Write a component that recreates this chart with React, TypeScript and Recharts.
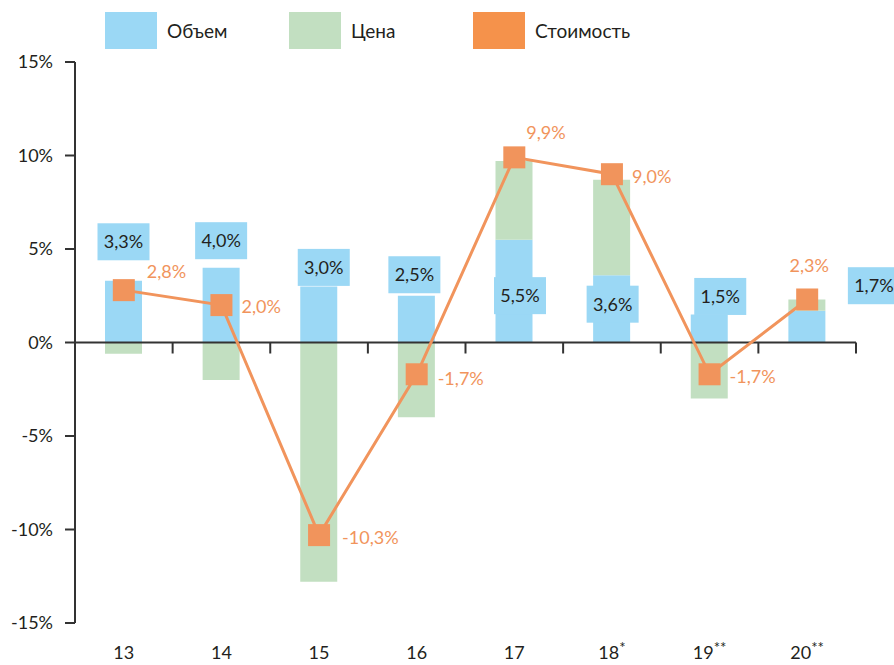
import {
  ComposedChart,
  Bar,
  Line,
  XAxis,
  YAxis,
  Legend,
  ReferenceLine,
  LabelList,
} from "recharts"

const years = ["13", "14", "15", "16", "17", "18", "19", "20"]
const yearMarks = ["", "", "", "", "", "*", "**", "**"]
const volume = [3.3, 4.0, 3.0, 2.5, 5.5, 3.6, 1.5, 1.7]
const price = [-0.6, -2.0, -12.8, -4.0, 4.2, 5.1, -3.0, 0.6]
const cost = [2.8, 2.0, -10.3, -1.7, 9.9, 9.0, -1.7, 2.3]
const yTicks = [-15, -10, -5, 0, 5, 10, 15]

const BLUE = "#9bd8f5"
const GREEN = "#c2dfc1"
const ORANGE = "#f1945c"
const INK = "#231f20"

// hand placed labels, px from bar top / marker centre
const volumeShift = [[0, -39], [0, -27], [5, -19], [-2, -21], [6, 56], [1, 29], [11, -18], [67, -25]]
const costShift: [number, number, string][] = [
  [23, -19, "start"], [20, 1, "start"], [23, 2, "start"], [21, 4, "start"],
  [12, -25, "start"], [20, 2, "start"], [20, 2, "start"], [2, -34, "middle"],
]

const series = [
  { name: "Объем", color: BLUE },
  { name: "Цена", color: GREEN },
  { name: "Стоимость", color: "#f5924b" },
]

const data = years.map((year, i) => ({
  year,
  volume: volume[i],
  price: price[i],
  cost: cost[i],
}))

const fmt = (v: number) => v.toFixed(1).replace(".", ",") + "%"

function YearTick({ x, y, payload }: any) {
  const i = years.indexOf(payload.value)
  return (
    <text x={x} y={y + 36} textAnchor="middle" fontSize={18} fill={INK}>
      <tspan>{payload.value}</tspan>
      {yearMarks[i] && (
        <tspan dy={-6} fontSize={15}>
          {yearMarks[i]}
        </tspan>
      )}
    </text>
  )
}

function ZeroLine(p: any) {
  const { x1, x2, y1 } = p
  const step = (x2 - x1) / years.length
  return (
    <g>
      <line x1={x1} x2={x2} y1={y1} y2={y1} stroke="#333" strokeWidth={2} />
      {years.map((_, i) => (
        <line
          key={i}
          x1={x1 + step * (i + 1)}
          x2={x1 + step * (i + 1)}
          y1={y1}
          y2={y1 + 11}
          stroke="#333"
          strokeWidth={2}
        />
      ))}
    </g>
  )
}

function VolumeLabel(p: any) {
  const vb = p.viewBox ?? p
  const i = p.index
  const [dx, dy] = volumeShift[i]
  const cx = vb.x + vb.width / 2 + dx
  const cy = vb.y + dy
  return (
    <g>
      <rect x={cx - 26} y={cy - 18.5} width={52} height={37} fill={BLUE} />
      <text x={cx} y={cy} dy="0.36em" textAnchor="middle" fontSize={18} fill={INK}>
        {fmt(volume[i])}
      </text>
    </g>
  )
}

function CostLabel(p: any) {
  const vb = p.viewBox ?? p
  const i = p.index
  const [dx, dy, anchor] = costShift[i]
  return (
    <text
      x={vb.x + dx}
      y={vb.y + dy}
      dy="0.36em"
      textAnchor={anchor as any}
      fontSize={18}
      fill={ORANGE}
    >
      {fmt(cost[i])}
    </text>
  )
}

function SquareDot(p: any) {
  return <rect key={p.index} x={p.cx - 11} y={p.cy - 11} width={22} height={22} fill={ORANGE} />
}

function LegendBox() {
  return (
    <div style={{ position: "relative", width: 894, height: 62 }}>
      {series.map((s, i) => (
        <div
          key={s.name}
          style={{
            position: "absolute",
            left: 105 + i * 184,
            top: 12,
            display: "flex",
            alignItems: "center",
            fontSize: 19,
            color: INK,
          }}
        >
          <span style={{ width: 52, height: 37, background: s.color, marginRight: 10 }} />
          {s.name}
        </div>
      ))}
    </div>
  )
}

export default function App() {
  return (
    <div style={{ position: "absolute", left: 0, top: 0, fontFamily: "Lato, sans-serif", background: "#fff" }}>
      <ComposedChart
        width={894}
        height={665}
        data={data}
        stackOffset="sign"
        margin={{ top: 0, right: 38, bottom: 0, left: 0 }}
      >
        <Legend
          verticalAlign="top"
          content={() => <LegendBox />}
          wrapperStyle={{ left: 0, top: 0, width: 894, height: 62 }}
        />
        <XAxis
          dataKey="year"
          axisLine={false}
          tickLine={false}
          tickSize={0}
          tickMargin={0}
          height={42}
          tick={<YearTick />}
          interval={0}
        />
        <YAxis
          width={75}
          domain={[-15, 15]}
          ticks={yTicks}
          tickFormatter={(v) => `${v}%`}
          tick={{ fontSize: 18, fill: INK }}
          axisLine={{ stroke: "#333", strokeWidth: 2 }}
          tickLine={{ stroke: "#333", strokeWidth: 2 }}
          tickSize={10}
          tickMargin={12}
        />
        <Bar dataKey="volume" stackId="a" fill={BLUE} barSize={37} isAnimationActive={false}>
          <LabelList dataKey="volume" content={VolumeLabel} />
        </Bar>
        <Bar dataKey="price" stackId="a" fill={GREEN} barSize={37} isAnimationActive={false} />
        <ReferenceLine y={0} shape={ZeroLine} />
        <Line
          dataKey="cost"
          stroke={ORANGE}
          strokeWidth={3}
          dot={SquareDot}
          activeDot={false}
          isAnimationActive={false}
        >
          <LabelList dataKey="cost" content={CostLabel} />
        </Line>
      </ComposedChart>
    </div>
  )
}
